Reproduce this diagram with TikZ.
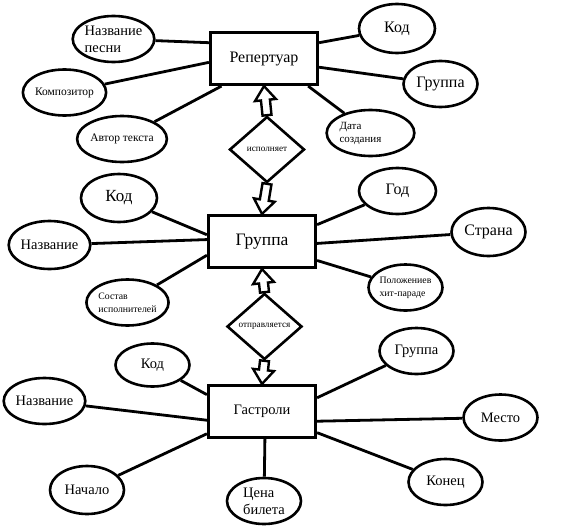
\documentclass[tikz,border=0pt]{standalone}
\usepackage{fontspec}
\setmainfont{Liberation Serif}
\usepackage{tikz}
\usetikzlibrary{shapes.geometric,calc}
\tikzset{
  ent/.style={draw, line width=3.2pt, minimum width=107pt, minimum height=52pt, inner sep=0pt},
  attr/.style={draw, ellipse, line width=2.6pt, minimum width=74pt, minimum height=46pt,
               inner sep=0pt, align=left},
  rel/.style={draw, diamond, line width=2.6pt, minimum width=75pt, minimum height=66pt,
              inner sep=0pt, font=\fontsize{9.2}{11}\selectfont},
  link/.style={line width=2.8pt},
  blockarr/.style={draw, line width=2.4pt, line join=miter},
  fbig/.style={font=\fontsize{16}{19}\selectfont},
  fmid/.style={font=\fontsize{14.5}{17}\selectfont},
  fsml/.style={font=\fontsize{11.5}{13}\selectfont},
  ftiny/.style={font=\fontsize{9.8}{13}\selectfont},
}
% hollow block arrow from #1 to #2
\newcommand{\blockarrow}[2]{%
  \coordinate (ba-m) at ($(#2)!14pt!(#1)$);
  \draw[blockarr] ($(#1)!4.5pt!90:(#2)$) -- ($(ba-m)!4.5pt!90:(#2)$) -- ($(ba-m)!10.5pt!90:(#2)$)
    -- (#2) -- ($(ba-m)!10.5pt!-90:(#2)$) -- ($(ba-m)!4.5pt!-90:(#2)$) -- ($(#1)!4.5pt!-90:(#2)$) -- cycle;
}

\begin{document}
\begin{tikzpicture}[x=1pt, y=-1pt]
  \useasboundingbox (0,0) rectangle (564,530);
  % entities and relations
  \node[ent, fbig] (rep) at (264,58.5) {Репертуар};
  \node[ent, font=\fontsize{17.5}{20}\selectfont] (grp) at (262,241.5) {Группа};
  \node[ent, font=\fontsize{14.5}{17}\selectfont] (gas) at (262,411.5) {Гастроли};
  \node[rel] (isp) at (267,149.5) {исполняет};
  \node[rel] (otp) at (264.5,326.5) {отправляется};
  \blockarrow{isp.north}{rep.south}
  \blockarrow{isp.south}{grp.north}
  \blockarrow{otp.north}{grp.south}
  \blockarrow{otp.south}{gas.north}

  % Репертуар
  \node[attr, fmid] (rnaz) at (113.5,39) {Название\\песни};
  \node[attr, fsml, minimum width=77pt] (rkom) at (64.5,92.5) {Композитор};
  \node[attr, fsml] (ravt) at (122,139) {Автор текста};
  \node[attr, fbig, minimum width=76pt, minimum height=49pt] (rkod) at (397,28.5) {Код};
  \node[attr, fbig] (rgrp) at (440.5,84) {Группа};
  \node[attr, font=\fontsize{11}{13}\selectfont, text width=62pt] (rdat) at (370.5,133) {Дата\\создания};
  \draw[link] (rnaz) -- (rep.164);
  \draw[link] (rkom) -- (rep.184);
  \draw[link] (ravt) -- (rep.213);
  \draw[link] (rkod) -- (rep.16);
  \draw[link] (rgrp) -- (rep.351);
  \draw[link] (rdat) -- (rep.328);

  % Группа
  \node[attr, font=\fontsize{17}{20}\selectfont, minimum width=76pt, minimum height=48pt] (gkod) at (119,198) {Код};
  \node[attr, fmid, minimum height=48pt] (gnaz) at (49.5,245) {Название};
  \node[attr, ftiny] (gsos) at (127.5,302.5) {Состав\\исполнителей};
  \node[attr, fbig, minimum width=77pt] (ggod) at (397.5,191) {Год};
  \node[attr, fbig, minimum height=48pt] (gstr) at (488.5,232) {Страна};
  \node[attr, ftiny] (gpol) at (405.5,287.5) {Положениев\\хит-параде};
  \draw[link] (gkod) -- (grp.173);
  \draw[link] (gnaz) -- (grp.178);
  \draw[link] (gsos) -- (grp.194);
  \draw[link] (ggod) -- (grp.17);
  \draw[link] (gstr) -- (grp.358);
  \draw[link] (gpol) -- (grp.341);

  % Гастроли
  \node[attr, fmid, minimum height=43pt] (tkod) at (152.5,365) {Код};
  \node[attr, fmid] (tnaz) at (44.5,401) {Название};
  \node[attr, fmid, minimum height=48pt] (tnac) at (87,490) {Начало};
  \node[attr, fmid] (tcen) at (264,501) {Цена\\билета};
  \node[attr, fmid] (tgrp) at (416.5,351) {Группа};
  \node[attr, fmid] (tmes) at (500.5,417.5) {Место};
  \node[attr, fmid] (tkon) at (445.5,482) {Конец};
  \draw[link] (tkod) -- (gas.163);
  \draw[link] (tnaz) -- (gas.189);
  \draw[link] (tnac) -- (gas.202);
  \draw[link] (tcen) -- (gas.276);
  \draw[link] (tgrp) -- (gas.14);
  \draw[link] (tmes) -- (gas.350);
  \draw[link] (tkon) -- (gas.339);
\end{tikzpicture}
\end{document}
